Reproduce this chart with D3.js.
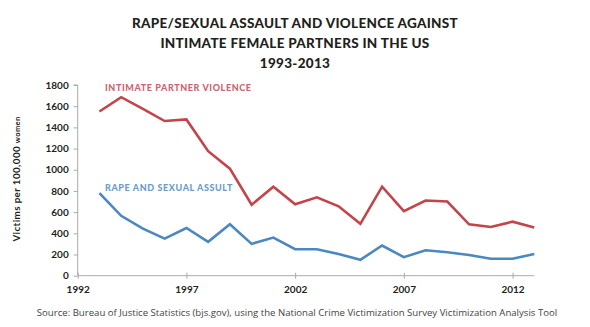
<!DOCTYPE html>
<html>
<head>
<meta charset="utf-8">
<script src="https://cdn.jsdelivr.net/npm/d3@7/dist/d3.min.js"></script>
<style>
  html, body { margin: 0; padding: 0; background: #fff; }
  svg { display: block; }
</style>
</head>
<body>
<svg id="chart" width="590" height="327"></svg>
<script>
const years = [1993,1994,1995,1996,1997,1998,1999,2000,2001,2002,2003,2004,2005,2006,2007,2008,2009,2010,2011,2012,2013];
const ipv = [1550,1685,1575,1460,1475,1175,1010,670,840,675,740,655,490,840,610,710,700,485,460,510,455];
const rsa = [780,565,445,350,450,320,485,300,360,250,250,205,150,285,175,240,222,195,160,160,205];
const yTicks = [0,200,400,600,800,1000,1200,1400,1600,1800];
const xTicks = [1992,1997,2002,2007,2012];
const titleLines = ["RAPE/SEXUAL ASSAULT AND VIOLENCE AGAINST", "INTIMATE FEMALE PARTNERS IN THE US", "1993-2013"];

const svg = d3.select("#chart");
const x = d3.scaleLinear().domain([1992, 2013]).range([77.7, 534.3]);
const y = d3.scaleLinear().domain([0, 1800]).range([275.7, 85]);

// Title
svg.append("g").selectAll("text").data(titleLines).join("text")
  .attr("x", 295).attr("y", (d, i) => 28 + i * 20)
  .attr("text-anchor", "middle")
  .attr("font-family", "Lato, sans-serif").attr("font-weight", 900)
  .attr("font-size", 13.5).attr("fill", "#231f20")
  .attr("letter-spacing", 0.3)
  .text(d => d);

// Axes
const yAxis = d3.axisLeft(y).tickValues(yTicks).tickSize(4).tickPadding(5).tickFormat(d3.format("d"));
const gy = svg.append("g").attr("transform", `translate(${x(1992)},0)`).call(yAxis);
gy.select(".domain").attr("stroke", "#aaa").attr("d", `M-4,${y(1800)}H0V${y(0)}`);
gy.selectAll(".tick line").attr("stroke", "#aaa");
gy.selectAll(".tick text").attr("font-family", "Lato, sans-serif").attr("font-weight", 700)
  .attr("font-size", 10).attr("fill", "#231f20");

const xAxis = d3.axisBottom(x).tickValues(xTicks).tickSize(3).tickPadding(7).tickFormat(d3.format("d"));
const gx = svg.append("g").attr("transform", `translate(0,${y(0)})`).call(xAxis);
gx.select(".domain").attr("stroke", "#aaa").attr("d", `M${x(1992)},0H${x(2013)}`);
gx.selectAll(".tick line").attr("stroke", "#aaa").attr("y1", -3);
gx.selectAll(".tick text").attr("font-family", "Lato, sans-serif").attr("font-weight", 700)
  .attr("font-size", 10).attr("fill", "#231f20");

// Y label
const yl = svg.append("text")
  .attr("transform", "translate(20,179) rotate(-90)")
  .attr("text-anchor", "middle")
  .attr("font-family", "Lato, sans-serif").attr("font-weight", 700)
  .attr("font-size", 9.8).attr("fill", "#231f20").attr("letter-spacing", 0.4);
yl.append("tspan").text("Victims per 100,000 ");
yl.append("tspan").attr("font-size", 7.5).text("women");

// Lines
const line = d3.line().x((d, i) => x(years[i])).y(d => y(d));
svg.append("path").datum(ipv).attr("d", line).attr("fill", "none")
  .attr("stroke", "#c4444a").attr("stroke-width", 2.6).attr("stroke-linejoin", "miter");
svg.append("path").datum(rsa).attr("d", line).attr("fill", "none")
  .attr("stroke", "#4a88c2").attr("stroke-width", 2.6).attr("stroke-linejoin", "miter");

// Series labels
svg.append("text").attr("x", 105).attr("y", 91)
  .attr("font-family", "Lato, sans-serif").attr("font-weight", 900)
  .attr("font-size", 9).attr("fill", "#cc6570").attr("letter-spacing", 0.6)
  .text("INTIMATE PARTNER VIOLENCE");
svg.append("text").attr("x", 105).attr("y", 191)
  .attr("font-family", "Lato, sans-serif").attr("font-weight", 900)
  .attr("font-size", 9).attr("fill", "#6e9cc8").attr("letter-spacing", 0.6)
  .text("RAPE AND SEXUAL ASSULT");

// Source
svg.append("text").attr("x", 297).attr("y", 316)
  .attr("text-anchor", "middle")
  .attr("font-family", "'Open Sans', sans-serif")
  .attr("font-size", 9.6).attr("fill", "#444")
  .text("Source: Bureau of Justice Statistics (bjs.gov), using the National Crime Victimization Survey Victimization Analysis Tool");
</script>
</body>
</html>
